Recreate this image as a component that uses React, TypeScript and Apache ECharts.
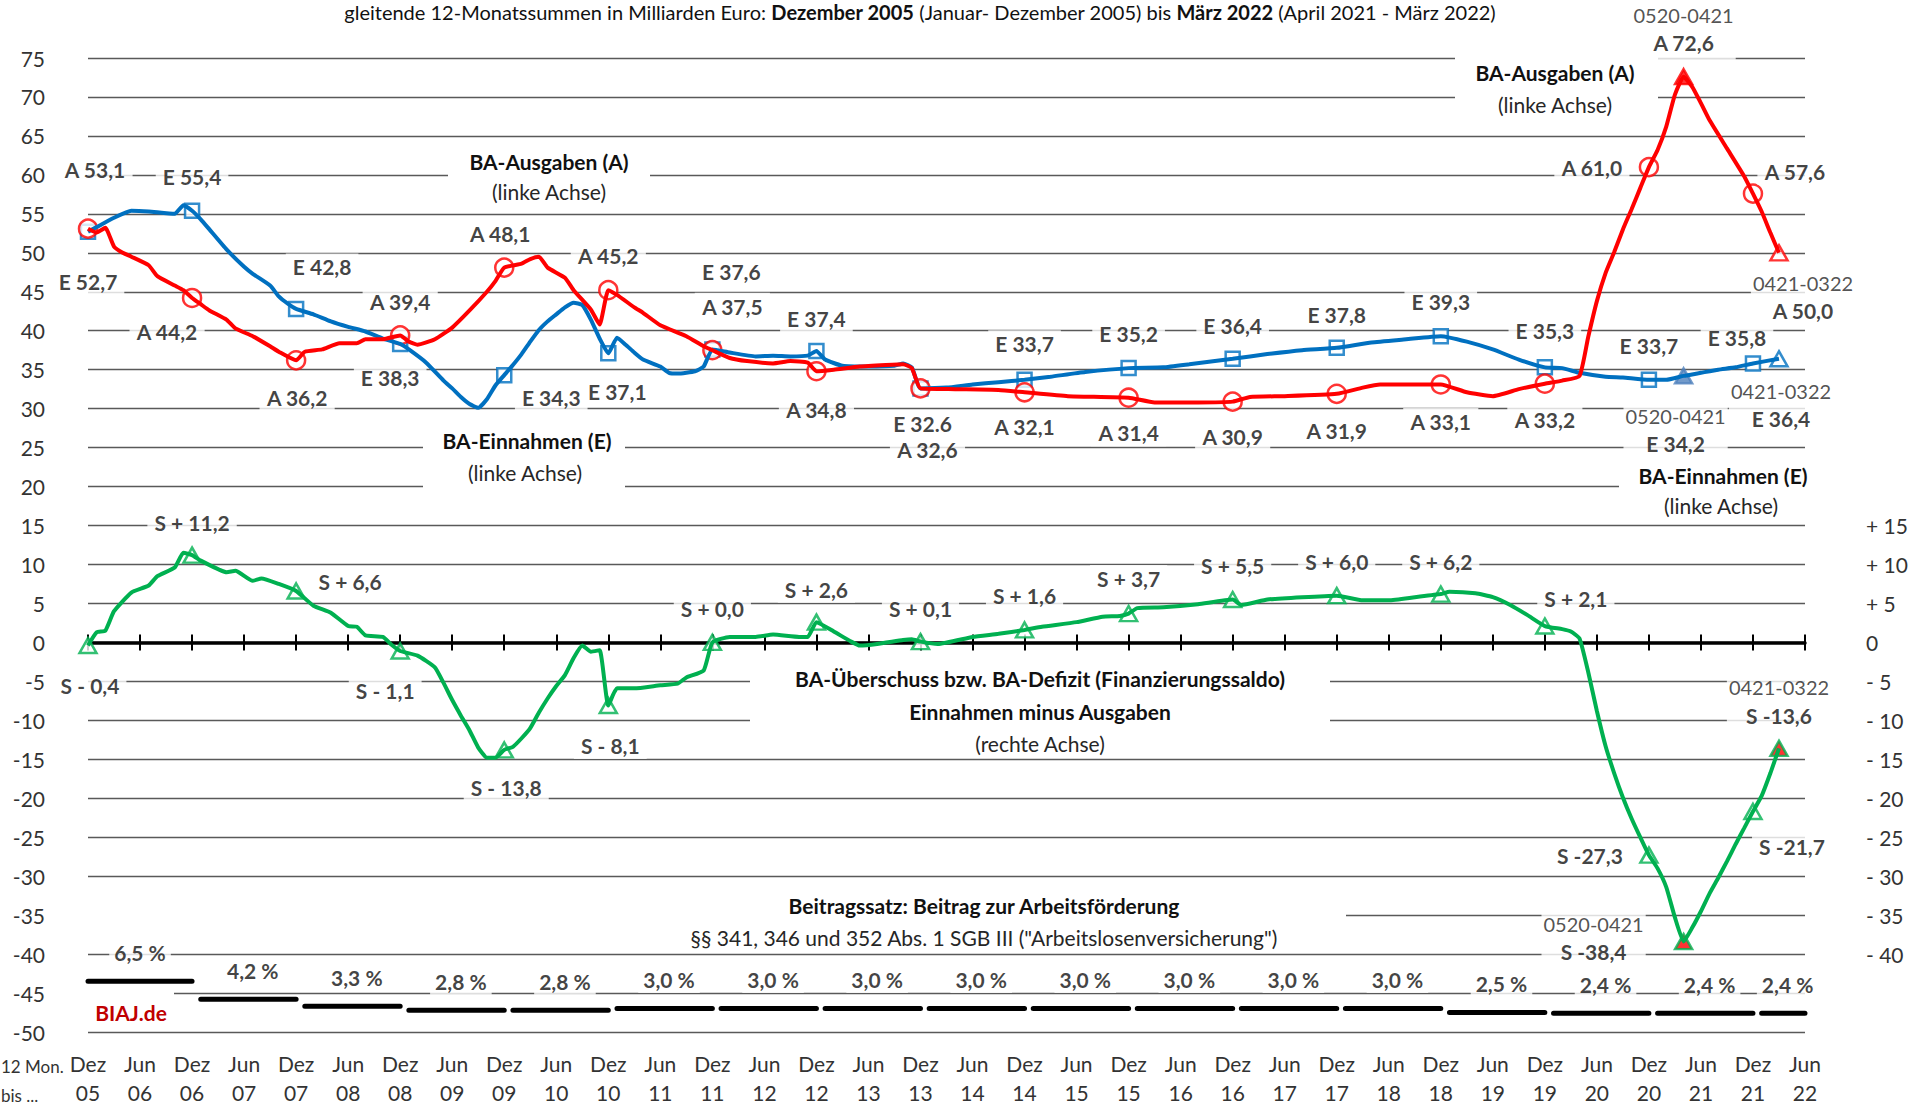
import React, { useEffect, useRef } from 'react';
import * as echarts from 'echarts';

// ---------- categories: months Dez 2005 .. Jun 2022 ----------
const MONTH_NAMES = ['Jan', 'Feb', 'Mär', 'Apr', 'Mai', 'Jun', 'Jul', 'Aug', 'Sep', 'Okt', 'Nov', 'Dez'];
const MONTH_COUNT = 199;
const CATEGORIES = Array.from({ length: MONTH_COUNT }, (_, i) => {
  const k = 11 + i;
  return `${MONTH_NAMES[k % 12]}\n${String((2005 + Math.floor(k / 12)) % 100).padStart(2, '0')}`;
});

// ---------- series values [month index (0 = Dez 05), value in Mrd. Euro] ----------
const E_LINE = [[0,52.7],[1,53.3],[3,54.5],[5,55.4],[7,55.3],[10,55.0],[11,56.1],[12,55.4],[13,54.3],[14,53.0],[16,50.4],[18,48.2],[19,47.3],[21,45.8],[22,44.4],[23,43.5],[24,42.8],[26,42.1],[28,41.2],[30,40.5],[32,39.9],[34,39.0],[36,38.3],[37,37.6],[39,35.9],[41,33.6],[42,32.6],[43,31.5],[44,30.6],[45,30.1],[46,31.2],[47,33.0],[48,34.3],[49,35.6],[50,37.0],[51,38.6],[52,40.1],[53,41.2],[54,42.1],[55,43.0],[56,43.6],[57,43.3],[58,41.4],[59,39.0],[60,37.1],[61,39.1],[62,38.2],[63,37.2],[64,36.3],[66,35.4],[67,34.6],[68,34.5],[70,34.8],[71,35.4],[72,37.6],[74,37.2],[77,36.7],[79,36.8],[81,36.7],[83,36.8],[84,37.4],[85,36.3],[87,35.5],[90,35.4],[93,35.5],[94,35.8],[95,35.3],[96,32.6],[99,32.7],[102,33.1],[105,33.4],[108,33.7],[111,34.1],[115,34.7],[120,35.2],[124,35.3],[127,35.7],[132,36.4],[136,37.0],[140,37.5],[144,37.8],[148,38.5],[152,38.9],[156,39.3],[159,38.6],[162,37.6],[165,36.3],[168,35.3],[170,35.2],[172,34.6],[175,34.1],[177,34.0],[180,33.7],[182,33.7],[184,34.2],[186,34.6],[188,35.0],[190,35.3],[192,35.8],[195,36.4]];
const A_LINE = [[0,53.1],[1,52.6],[2,53.2],[3,50.8],[4,50.0],[5,49.5],[7,48.4],[8,47.0],[10,45.8],[11,45.2],[12,44.2],[13,43.4],[14,42.6],[16,41.4],[17,40.3],[19,39.3],[21,38.0],[22,37.3],[24,36.2],[25,37.3],[27,37.6],[29,38.4],[31,38.4],[32,38.9],[34,38.9],[36,39.4],[37,38.6],[38,38.2],[40,38.9],[42,40.4],[44,42.6],[46,45.0],[47,46.4],[48,48.1],[50,48.6],[51,49.2],[52,49.5],[53,48.1],[55,46.8],[56,45.2],[58,42.7],[59,40.8],[60,45.2],[61,44.6],[63,43.0],[64,42.3],[66,40.7],[69,39.3],[71,38.0],[72,37.5],[74,36.5],[76,36.1],[79,35.8],[81,36.1],[83,35.9],[84,34.8],[86,35.0],[89,35.4],[92,35.6],[94,35.7],[95,35.2],[96,32.6],[100,32.5],[105,32.4],[108,32.1],[113,31.6],[120,31.4],[123,30.8],[128,30.8],[132,30.9],[134,31.5],[138,31.6],[144,31.9],[147,32.7],[149,33.1],[153,33.1],[156,33.1],[159,32.1],[162,31.6],[165,32.5],[168,33.2],[170,33.6],[172,34.2],[173,39.2],[174,43.8],[175,47.4],[176,50.1],[177,53.0],[178,55.6],[179,58.3],[180,61.0],[181,63.2],[182,66.2],[183,70.3],[184,72.6],[185,71.3],[186,69.2],[187,67.0],[189,63.4],[191,59.8],[192,57.6],[193,55.3],[194,52.6],[195,50.0]];
const S_LINE = [[0,-0.4],[1,1.3],[2,1.5],[3,4.0],[5,6.4],[7,7.3],[8,8.5],[10,9.6],[11,11.5],[12,11.2],[13,10.5],[16,9.0],[17,9.2],[19,7.9],[20,8.2],[22,7.5],[24,6.6],[26,4.7],[28,3.8],[30,2.1],[31,2.0],[32,0.9],[34,0.7],[35,-0.3],[36,-1.1],[38,-1.7],[40,-3.2],[41,-5.2],[42,-7.4],[43,-9.4],[44,-11.3],[45,-13.5],[46,-14.8],[47,-14.8],[48,-13.8],[49,-13.4],[50,-12.3],[51,-11.0],[52,-9.0],[53,-7.2],[54,-5.6],[55,-4.2],[56,-2.0],[57,-0.4],[58,-1.2],[59,-1.0],[60,-8.1],[61,-5.9],[63,-5.9],[66,-5.5],[68,-5.3],[69,-4.5],[71,-3.6],[72,0.0],[74,0.7],[77,0.7],[79,1.0],[82,0.7],[83,0.7],[84,2.6],[86,1.4],[88,0.1],[89,-0.4],[91,-0.2],[94,0.3],[95,0.4],[96,0.1],[98,-0.2],[102,0.7],[105,1.1],[108,1.6],[110,2.0],[114,2.6],[117,3.3],[119,3.4],[120,3.7],[121,4.4],[124,4.5],[128,4.9],[132,5.5],[133,4.8],[136,5.5],[140,5.8],[144,6.0],[147,5.4],[150,5.4],[153,5.8],[156,6.2],[157,6.5],[160,6.3],[162,5.8],[164,4.8],[166,3.5],[168,2.1],[170,1.7],[171,1.4],[172,0.5],[173,-3.8],[174,-8.8],[175,-13.3],[176,-16.8],[177,-19.9],[178,-22.6],[179,-25.0],[180,-27.3],[181,-29.0],[182,-31.4],[183,-35.3],[184,-38.4],[185,-36.6],[186,-34.5],[187,-32.2],[188,-30.2],[189,-28.1],[190,-25.9],[191,-23.8],[192,-21.7],[193,-19.7],[194,-16.8],[195,-13.6]];

// labelled markers: every December (Dez 05 .. Dez 21) + two special periods
const DEZ_MONTHS = [0, 12, 24, 36, 48, 60, 72, 84, 96, 108, 120, 132, 144, 156, 168, 180, 192];
const E_DEZ = [52.7, 55.4, 42.8, 38.3, 34.3, 37.1, 37.6, 37.4, 32.6, 33.7, 35.2, 36.4, 37.8, 39.3, 35.3, 33.7, 35.8];
const A_DEZ = [53.1, 44.2, 36.2, 39.4, 48.1, 45.2, 37.5, 34.8, 32.6, 32.1, 31.4, 30.9, 31.9, 33.1, 33.2, 61.0, 57.6];
const S_DEZ = [-0.4, 11.2, 6.6, -1.1, -13.8, -8.1, 0.0, 2.6, 0.1, 1.6, 3.7, 5.5, 6.0, 6.2, 2.1, -27.3, -21.7];
const SPECIAL_MONTHS = [184, 195];
const PERIOD_LABELS = ['0520-0421', '0421-0322'];
const E_SPECIAL = [34.2, 36.4];
const A_SPECIAL = [72.6, 50.0];
const S_SPECIAL = [-38.4, -13.6];

// Beitragssatz (contribution rate, %) per year, drawn at (rate - 50) on the left axis
const RATE_YEARS = [2006, 2007, 2008, 2009, 2010, 2011, 2012, 2013, 2014, 2015, 2016, 2017, 2018, 2019, 2020, 2021, 2022];
const RATES = [6.5, 4.2, 3.3, 2.8, 2.8, 3.0, 3.0, 3.0, 3.0, 3.0, 3.0, 3.0, 3.0, 2.5, 2.4, 2.4, 2.4];
const RATE_SHIFT = -50;

// ---------- layout (label offsets in px relative to the marker) ----------
const E_OFF = [[0,50],[0,-34],[26,-42],[-10,34],[47,22],[9,38],[19,-78],[0,-32],[2,35],[0,-36],[0,-35],[0,-33],[0,-33],[0,-35],[0,-37],[0,-34],[-16,-26]];
const E_SPEC_OFF = [[-8,54],[2,46]];
const A_OFF = [[7,-59],[-25,34],[1,37],[0,-34],[-4,-34],[0,-35],[20,-44],[0,38],[7,61],[0,34],[0,35],[0,35],[0,37],[0,37],[0,36],[-57,0],[42,-22]];
const A_SPEC_OFF = [[0,-48],[24,44]];
const S_OFF = [[2,40],[0,-33],[54,-9],[-15,40],[2,38],[2,40],[0,-34],[0,-33],[0,-33],[0,-34],[0,-35],[0,-34],[0,-34],[0,-33],[31,-28],[-59,0],[39,35]];
const S_SPEC_OFF = [[-90,-4],[0,-47]];

const BLUE = '#0070C0';
const RED = '#FF0000';
const GREEN = '#00B050';
const FONT = 'Lato';
const INK = '#111111';

const fmt = (v: number) => v.toFixed(1).replace('.', ',');
// the original prints the Dez 13 receipts value with a decimal point
const labelE = (v: number, i: number) => 'E ' + (i === 8 ? v.toFixed(1) : fmt(v));
const labelA = (v: number) => 'A ' + fmt(v);
const labelS = (v: number, compact: boolean) =>
  'S ' + (v < 0 ? (compact ? '-' : '- ') : '+ ') + fmt(Math.abs(v));

const LABEL_BASE = {
  show: true,
  position: 'inside',
  fontFamily: FONT,
  fontSize: 21,
  fontWeight: 'bold',
  color: INK,
  backgroundColor: '#fff',
  padding: [3, 7],
  rich: {
    p: { fontFamily: FONT, fontSize: 20, fontWeight: 'normal', lineHeight: 28, color: '#262626' },
    v: { fontFamily: FONT, fontSize: 21, fontWeight: 'bold', lineHeight: 28, color: INK },
  },
};

function markerSeries(
  dez: number[], spec: number[], off: number[][], specOff: number[][],
  textDez: (v: number, i: number) => string, textSpec: (v: number) => string,
  sym: any, specStyles: any[],
) {
  const data: any[] = dez.map((v, i) => ({
    value: [DEZ_MONTHS[i], v],
    symbol: sym.symbol,
    symbolSize: sym.size,
    itemStyle: sym.style,
    label: { offset: off[i], formatter: textDez(v, i) },
  }));
  spec.forEach((v, j) => {
    data.push({
      value: [SPECIAL_MONTHS[j], v],
      symbol: 'triangle',
      symbolSize: [17, 15],
      itemStyle: { borderWidth: 2.5, ...specStyles[j] },
      label: { offset: specOff[j], padding: [3, 2], formatter: `{p|${PERIOD_LABELS[j]}}\n{v|${textSpec(v)}}` },
    });
  });
  return {
    type: 'scatter',
    data,
    label: LABEL_BASE,
    emphasis: { disabled: true },
    silent: true,
  };
}

function buildOption() {
  // contribution-rate segments (one per year)
  const rateLine: any[] = [];
  const rateLabels: any[] = [];
  RATE_YEARS.forEach((year, k) => {
    const start = k === 0 ? 0 : (year - 2006) * 12 + 1;
    const end = Math.min((year - 2005) * 12, MONTH_COUNT - 1);
    const y = RATES[k] + RATE_SHIFT;
    rateLine.push([start, y], [end, y], [end, null]);
    rateLabels.push({ value: [(start + end) / 2, y], rate: RATES[k] });
  });

  const box = (x: number, y: number, w: number, h: number) => ({
    type: 'rect', z: 1, silent: true,
    shape: { x, y, width: w, height: h },
    style: { fill: '#fff' },
  });
  const txt = (text: string, x: number, y: number, bold: boolean, opts: any = {}) => ({
    type: 'text', z: 3, silent: true, x, y,
    style: {
      text,
      font: `${bold ? 'bold ' : ''}${opts.size || 21}px ${FONT}`,
      fill: opts.fill || (bold ? INK : '#262626'),
      align: opts.align || 'center',
      textAlign: opts.align || 'center',
      verticalAlign: 'middle',
      textVerticalAlign: 'middle',
      rich: opts.rich,
    },
  });

  const graphics = [
    txt('gleitende 12-Monatssummen in Milliarden Euro: {b|Dezember 2005} (Januar- Dezember 2005) bis {b|März 2022} (April 2021 - März 2022)',
      920, 12, false, { size: 20, fill: INK, rich: { b: { fontFamily: FONT, fontSize: 20, fontWeight: 'bold', fill: INK } } }),
    box(448, 146, 202, 56),
    txt('BA-Ausgaben (A)', 549, 161, true),
    txt('(linke Achse)', 549, 191, false),
    box(1455, 50, 203, 68),
    txt('BA-Ausgaben (A)', 1555, 72, true),
    txt('(linke Achse)', 1555, 104, false),
    box(423, 424, 202, 71),
    txt('BA-Einnahmen (E)', 527, 440, true),
    txt('(linke Achse)', 525, 472, false),
    box(1619, 458, 215, 62),
    txt('BA-Einnahmen (E)', 1723, 475, true),
    txt('(linke Achse)', 1721, 505, false),
    box(750, 662, 580, 94),
    txt('BA-Überschuss bzw. BA-Defizit (Finanzierungssaldo)', 1040, 678, true),
    txt('Einnahmen minus Ausgaben', 1040, 711, true),
    txt('(rechte Achse)', 1040, 743, false),
    box(88, 893, 1258, 57),
    txt('Beitragssatz: Beitrag zur Arbeitsförderung', 984, 905, true),
    txt('§§ 341, 346 und 352 Abs. 1 SGB III ("Arbeitslosenversicherung")', 984, 937, false),
    box(88, 989, 86, 40),
    txt('BIAJ.de', 131, 1012, true, { fill: '#C00000' }),
    txt('12 Mon.', 1, 1066, false, { align: 'left', fill: '#333', size: 17 }),
    txt('bis ...', 1, 1095, false, { align: 'left', fill: '#333', size: 17 }),
  ];

  const xBase = { type: 'category', data: CATEGORIES, boundaryGap: false, splitLine: { show: false } };

  return {
    animation: false,
    backgroundColor: '#fff',
    textStyle: { fontFamily: FONT },
    grid: { left: 88, right: 118, top: 58, bottom: 73, containLabel: false },
    xAxis: [
      {
        ...xBase,
        position: 'bottom',
        axisLine: { show: false, onZero: false },
        axisTick: { show: false },
        axisLabel: { interval: 5, margin: 17, fontSize: 21, lineHeight: 29, color: '#333', fontFamily: FONT },
      },
      {
        ...xBase,
        position: 'bottom',
        axisLine: { show: true, onZero: true, onZeroAxisIndex: 0, lineStyle: { color: '#000', width: 3.5 } },
        axisTick: { show: true, interval: 5, inside: false, length: 8, lineStyle: { color: '#000', width: 2 } },
        axisLabel: { show: false },
      },
      {
        ...xBase,
        position: 'bottom',
        axisLine: { show: false, onZero: true, onZeroAxisIndex: 0 },
        axisTick: { show: true, interval: 5, inside: true, length: 8, lineStyle: { color: '#000', width: 2 } },
        axisLabel: { show: false },
      },
    ],
    yAxis: [
      {
        type: 'value', min: -50, max: 75, interval: 5, position: 'left',
        axisLine: { show: false }, axisTick: { show: false },
        axisLabel: { margin: 43, fontSize: 21, color: '#333', fontFamily: FONT },
        splitLine: { show: true, lineStyle: { color: '#595959', width: 1.4 } },
      },
      {
        type: 'value', min: -50, max: 75, interval: 5, position: 'right',
        axisLine: { show: false }, axisTick: { show: false },
        axisLabel: {
          margin: 61, fontSize: 21, color: '#333', fontFamily: FONT, align: 'left',
          formatter: (v: number) => (v > 15 || v < -40 ? '' : v > 0 ? `+ ${v}` : v < 0 ? `- ${-v}` : '0'),
        },
        splitLine: { show: false },
      },
    ],
    series: [
      {
        type: 'line', data: rateLine, symbol: 'none', silent: true,
        lineStyle: { color: '#000', width: 5, cap: 'round' },
      },
      {
        type: 'scatter', data: rateLabels, symbolSize: 1, silent: true,
        itemStyle: { color: 'rgba(0,0,0,0)' },
        label: {
          show: true, position: 'inside', offset: [0, -29],
          formatter: (p: any) => `${fmt(p.data.rate)} %`,
          fontFamily: FONT, fontSize: 21, fontWeight: 'bold', color: INK,
          backgroundColor: '#fff', padding: [3, 5],
        },
      },
      {
        type: 'line', data: E_LINE, showSymbol: false, smooth: 0.15, silent: true,
        lineStyle: { color: BLUE, width: 4 },
      },
      markerSeries(E_DEZ, E_SPECIAL, E_OFF, E_SPEC_OFF, labelE, (v) => 'E ' + fmt(v),
        { symbol: 'rect', size: 14, style: { color: '#fff', borderColor: BLUE, borderWidth: 2.5 } },
        [{ color: '#4F81BD', borderColor: '#4F81BD' }, { color: '#fff', borderColor: BLUE }]),
      {
        type: 'line', data: A_LINE, showSymbol: false, smooth: 0.15, silent: true,
        lineStyle: { color: RED, width: 4 },
      },
      markerSeries(A_DEZ, A_SPECIAL, A_OFF, A_SPEC_OFF, (v) => labelA(v), labelA,
        { symbol: 'circle', size: 18, style: { color: '#fff', borderColor: RED, borderWidth: 2.5 } },
        [{ color: RED, borderColor: RED }, { color: '#fff', borderColor: RED }]),
      {
        type: 'line', data: S_LINE, showSymbol: false, smooth: 0.15, silent: true,
        lineStyle: { color: GREEN, width: 4 },
      },
      markerSeries(S_DEZ, S_SPECIAL, S_OFF, S_SPEC_OFF, (v, i) => labelS(v, i >= 15), (v) => labelS(v, true),
        { symbol: 'triangle', size: [17, 15], style: { color: '#fff', borderColor: GREEN, borderWidth: 2.5 } },
        [{ color: RED, borderColor: GREEN }, { color: RED, borderColor: GREEN }]),
    ],
    graphic: { elements: graphics },
  };
}

export default function App() {
  const ref = useRef<HTMLDivElement>(null);
  useEffect(() => {
    const chart = echarts.init(ref.current as HTMLDivElement, null, { renderer: 'svg' });
    chart.setOption(buildOption() as any);
    return () => chart.dispose();
  }, []);
  return (
    <div
      ref={ref}
      style={{ position: 'absolute', left: 0, top: 0, width: 1923, height: 1107, background: '#fff' }}
    />
  );
}
